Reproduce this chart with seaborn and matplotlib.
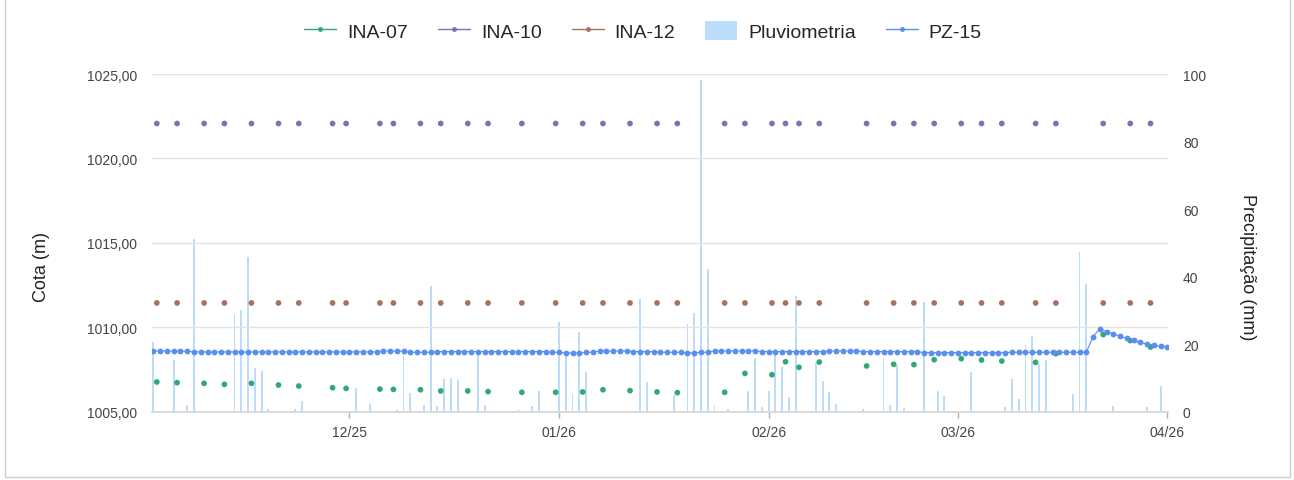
import pandas as pd
import matplotlib
matplotlib.use("Agg")
import matplotlib.pyplot as plt
import matplotlib.dates as mdates
from matplotlib.lines import Line2D
from matplotlib.patches import Patch
from matplotlib.ticker import FuncFormatter
import seaborn as sns

# daily series, 2025-11-02 .. 2026-04-01
first_day = "2025-11-02"
last_day = "2026-04-01"

# precipitation (mm) per day
pluviometria = [
    20.7, 0, 0, 15.4, 0, 2.0, 51.1, 0, 0, 0, 0, 0, 28.9, 30.2, 45.9,
    13.0, 12.0, 0.8, 0, 0, 0, 0.8, 3.3, 0, 0, 0, 0, 0, 0, 0,
    7.0, 0, 2.3, 0, 0, 0, 0.6, 17.8, 5.6, 0, 2.0, 37.3, 1.8, 9.6, 10.1,
    9.5, 0, 0, 17.5, 1.9, 0, 0, 0, 0, 0.8, 0, 1.8, 6.2, 0, 0,
    26.7, 17.2, 5.3, 23.7, 11.8, 0, 0, 0, 0, 0, 0, 0, 33.5, 8.7, 0,
    0, 0, 5.0, 0, 26.1, 29.2, 98.2, 42.3, 2.1, 0, 0.8, 0, 0, 6.2, 15.9,
    1.3, 6.1, 18.6, 13.3, 4.5, 34.4, 0, 0, 14.6, 9.1, 5.9, 2.3, 0, 0, 0,
    0.8, 0, 0, 15.5, 2.0, 13.8, 1.0, 0, 0, 32.4, 0, 6.0, 4.7, 0, 0,
    0, 11.8, 0, 0, 0, 0, 1.5, 9.7, 3.8, 19.8, 22.5, 14.2, 15.3, 0, 0,
    0, 5.2, 47.3, 37.7, 0, 0, 0, 1.8, 0, 0, 0, 0, 1.5, 0, 7.5, 0,
]

# PZ-15 level (m) per day
pz15 = [
    1008.60, 1008.60, 1008.60, 1008.58, 1008.58, 1008.58, 1008.54, 1008.54, 1008.54, 1008.54,
    1008.54, 1008.54, 1008.54, 1008.54, 1008.54, 1008.54, 1008.54, 1008.54, 1008.54, 1008.54,
    1008.54, 1008.54, 1008.54, 1008.54, 1008.54, 1008.54, 1008.54, 1008.54, 1008.54, 1008.54,
    1008.54, 1008.54, 1008.54, 1008.54, 1008.60, 1008.60, 1008.60, 1008.58, 1008.52, 1008.52,
    1008.52, 1008.52, 1008.56, 1008.56, 1008.56, 1008.56, 1008.56, 1008.56, 1008.56, 1008.56,
    1008.56, 1008.56, 1008.56, 1008.56, 1008.56, 1008.56, 1008.56, 1008.56, 1008.56, 1008.52,
    1008.52, 1008.48, 1008.48, 1008.48, 1008.52, 1008.52, 1008.60, 1008.60, 1008.60, 1008.60,
    1008.60, 1008.56, 1008.56, 1008.56, 1008.56, 1008.52, 1008.52, 1008.52, 1008.52, 1008.48,
    1008.48, 1008.52, 1008.52, 1008.60, 1008.60, 1008.60, 1008.60, 1008.60, 1008.60, 1008.60,
    1008.56, 1008.56, 1008.56, 1008.56, 1008.56, 1008.56, 1008.56, 1008.56, 1008.56, 1008.56,
    1008.60, 1008.60, 1008.60, 1008.60, 1008.60, 1008.56, 1008.56, 1008.56, 1008.56, 1008.56,
    1008.56, 1008.56, 1008.56, 1008.56, 1008.50, 1008.50, 1008.50, 1008.50, 1008.50, 1008.50,
    1008.50, 1008.50, 1008.50, 1008.50, 1008.50, 1008.50, 1008.50, 1008.52, 1008.52, 1008.52,
    1008.52, 1008.52, 1008.52, 1008.52, 1008.52, 1008.52, 1008.52, 1008.52, 1008.52, 1009.45,
    1009.92, 1009.75, 1009.60, 1009.47, 1009.34, 1009.22, 1009.10, 1009.01, 1008.94, 1008.87,
    1008.83,
]

# manual readings of the INA wells
ina_dates = [
    "2025-11-02", "2025-11-05", "2025-11-09", "2025-11-12", "2025-11-16",
    "2025-11-20", "2025-11-23", "2025-11-28", "2025-11-30", "2025-12-05",
    "2025-12-07", "2025-12-11", "2025-12-14", "2025-12-18", "2025-12-21",
    "2025-12-26", "2025-12-31", "2026-01-04", "2026-01-07", "2026-01-11",
    "2026-01-15", "2026-01-18", "2026-01-25", "2026-01-28", "2026-02-01",
    "2026-02-03", "2026-02-05", "2026-02-08", "2026-02-15", "2026-02-19",
    "2026-02-22", "2026-02-25", "2026-03-01", "2026-03-04", "2026-03-07",
    "2026-03-12", "2026-03-15", "2026-03-22", "2026-03-26", "2026-03-29",
]
ina07 = [
    1006.76, 1006.72, 1006.68, 1006.62, 1006.68, 1006.58, 1006.52, 1006.42, 1006.38, 1006.34,
    1006.32, 1006.30, 1006.23, 1006.23, 1006.19, 1006.15, 1006.15, 1006.17, 1006.30, 1006.25,
    1006.17, 1006.13, 1006.15, 1007.27, 1007.19, 1007.96, 1007.63, 1007.94, 1007.71, 1007.81,
    1007.79, 1008.08, 1008.14, 1008.06, 1008.00, 1007.92, 1008.44, 1009.57, 1009.21, 1008.83,
]
ina10 = [
    1022.07, 1022.07, 1022.07, 1022.07, 1022.07, 1022.07, 1022.07, 1022.07, 1022.07, 1022.07,
    1022.07, 1022.07, 1022.07, 1022.07, 1022.07, 1022.07, 1022.07, 1022.07, 1022.07, 1022.07,
    1022.07, 1022.07, 1022.07, 1022.07, 1022.07, 1022.07, 1022.07, 1022.07, 1022.07, 1022.07,
    1022.07, 1022.07, 1022.07, 1022.07, 1022.07, 1022.07, 1022.07, 1022.07, 1022.07, 1022.07,
]
ina12 = [
    1011.44, 1011.44, 1011.44, 1011.44, 1011.44, 1011.44, 1011.44, 1011.44, 1011.44, 1011.44,
    1011.44, 1011.44, 1011.44, 1011.44, 1011.44, 1011.44, 1011.44, 1011.44, 1011.44, 1011.44,
    1011.44, 1011.44, 1011.44, 1011.44, 1011.44, 1011.44, 1011.44, 1011.44, 1011.44, 1011.44,
    1011.44, 1011.44, 1011.44, 1011.44, 1011.44, 1011.44, 1011.44, 1011.44, 1011.44, 1011.44,
]

colors = {
    "INA-07": "#33a877",
    "INA-10": "#7b72b3",
    "INA-12": "#a8705f",
    "Pluviometria": "#bcdcfb",
    "PZ-15": "#5a8ff2",
}

daily = pd.DataFrame({
    "data": pd.date_range(first_day, last_day, freq="D"),
    "Pluviometria": pluviometria,
    "PZ-15": pz15,
})
ina = pd.DataFrame({
    "data": pd.to_datetime(ina_dates) + pd.Timedelta(hours=12),
    "INA-07": ina07,
    "INA-10": ina10,
    "INA-12": ina12,
})
ina_long = ina.melt(id_vars="data", var_name="serie", value_name="cota")

sns.set_theme(style="white")
plt.rcParams["font.family"] = ["Liberation Sans", "DejaVu Sans"]

fig = plt.figure(figsize=(12.94, 4.81), dpi=100)
ax = fig.add_axes([0.1177, 0.142, 0.7847, 0.702])
axp = ax.twinx()
ax.set_zorder(axp.get_zorder() + 1)
ax.patch.set_visible(False)

# precipitation bars on the right axis
axp.bar(daily["data"], daily["Pluviometria"], width=0.28,
        color=colors["Pluviometria"], linewidth=0)

# piezometer levels on the left axis
sns.lineplot(data=daily, x="data", y="PZ-15", ax=ax, color=colors["PZ-15"],
             marker="o", markersize=4.2, markeredgewidth=0, linewidth=0.8)
sns.scatterplot(data=ina_long, x="data", y="cota", hue="serie", palette=colors,
                s=17, linewidth=0, ax=ax, legend=False)

x0 = pd.Timestamp(first_day) - pd.Timedelta(hours=4)
x1 = pd.Timestamp(last_day) + pd.Timedelta(hours=1)
ax.set_xlim(x0, x1)
ax.set_ylim(1005, 1025)
ax.set_yticks([1005, 1010, 1015, 1020, 1025])
ax.yaxis.set_major_formatter(FuncFormatter(lambda v, p: f"{v:.2f}".replace(".", ",")))
axp.set_ylim(0, 100)
axp.set_yticks([0, 20, 40, 60, 80, 100])

ax.xaxis.set_major_locator(mdates.MonthLocator())
ax.xaxis.set_major_formatter(mdates.DateFormatter("%m/%y"))

ax.grid(axis="y", color="#e3e3e3", linewidth=1)
ax.grid(axis="x", visible=False)
for a in (ax, axp):
    for s in a.spines.values():
        s.set_visible(False)
ax.spines["bottom"].set_visible(True)
ax.spines["bottom"].set_color("#d6d6d6")

ax.tick_params(axis="y", length=0, pad=11, labelsize=10, labelcolor="#444444")
axp.tick_params(axis="y", length=0, pad=11, labelsize=10, labelcolor="#444444")
ax.tick_params(axis="x", length=4.5, width=1, color="#b0b0b0", pad=5,
               labelsize=10, labelcolor="#444444", bottom=True)

ax.set_xlabel("")
ax.set_ylabel("Cota (m)", fontsize=13, color="#222222")
ax.yaxis.set_label_coords(-0.1007, 0.431)
axp.set_ylabel("Precipitação (mm)", fontsize=13, color="#222222", rotation=-90, va="center")
axp.yaxis.set_label_coords(1.079, 0.431)

handles = [
    Line2D([], [], color=colors["INA-07"], marker="o", markersize=2.5, lw=1),
    Line2D([], [], color=colors["INA-10"], marker="o", markersize=2.5, lw=1),
    Line2D([], [], color=colors["INA-12"], marker="o", markersize=2.5, lw=1),
    Patch(facecolor=colors["Pluviometria"], edgecolor="none"),
    Line2D([], [], color=colors["PZ-15"], marker="o", markersize=2.5, lw=1),
]
labels = ["INA-07", "INA-10", "INA-12", "Pluviometria", "PZ-15"]
fig.legend(handles, labels, loc="center", bbox_to_anchor=(0.497, 0.933), ncol=5,
           frameon=False, fontsize=14, handlelength=1.65, handleheight=1.1,
           columnspacing=1.55, handletextpad=0.55)

# card border
for xs, ys in [([5, 5], [0, 478]), ([1290, 1290], [0, 478]), ([5, 1290], [478, 478])]:
    fig.add_artist(Line2D([v / 1294 for v in xs], [1 - v / 481 for v in ys],
                          color="#d0d0d0", lw=1))

fig.savefig("out.png", dpi=100)
